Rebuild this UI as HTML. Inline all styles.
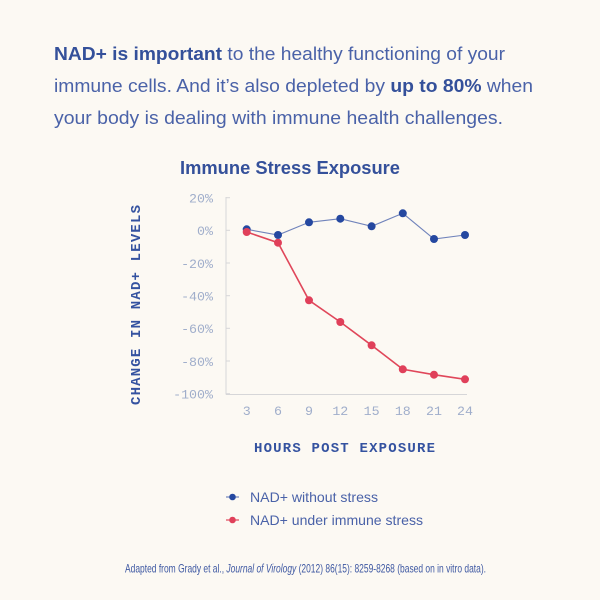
<!DOCTYPE html>
<html><head><meta charset="utf-8"><style>
html,body{margin:0;padding:0;background:#fcf9f3;}
svg{display:block;}
</style></head><body>
<svg width="600" height="600" viewBox="0 0 600 600" xmlns="http://www.w3.org/2000/svg">
<rect width="600" height="600" fill="#fcf9f3"/>
<g font-family="'Liberation Sans', sans-serif" font-size="18" fill="#4a62a8">
<text x="54" y="60" textLength="451" lengthAdjust="spacingAndGlyphs"><tspan font-weight="bold" fill="#34509a">NAD+ is important</tspan> to the healthy functioning of your</text>
<text x="54" y="92" textLength="479" lengthAdjust="spacingAndGlyphs">immune cells. And it’s also depleted by <tspan font-weight="bold" fill="#34509a">up to 80%</tspan> when</text>
<text x="54" y="124" textLength="449" lengthAdjust="spacingAndGlyphs">your body is dealing with immune health challenges.</text>
</g>
<text x="180" y="174" font-family="'Liberation Sans', sans-serif" font-weight="bold" font-size="18.5" fill="#34509a" textLength="220" lengthAdjust="spacingAndGlyphs">Immune Stress Exposure</text>

<!-- axes -->
<g stroke="#d6d6d8" stroke-width="1" fill="none">
<line x1="226" y1="197" x2="226" y2="394.5"/>
<line x1="226" y1="394.5" x2="467" y2="394.5"/>
<line x1="226" y1="197.7" x2="230" y2="197.7"/>
<line x1="226" y1="230.3" x2="230" y2="230.3"/>
<line x1="226" y1="263" x2="230" y2="263"/>
<line x1="226" y1="295.7" x2="230" y2="295.7"/>
<line x1="226" y1="328.3" x2="230" y2="328.3"/>
<line x1="226" y1="361" x2="230" y2="361"/>
<line x1="226" y1="393.7" x2="230" y2="393.7"/>
</g>
<g font-family="'Liberation Mono', monospace" font-size="13.3" fill="#a0aecb" text-anchor="end">
<text x="213" y="202.5">20%</text>
<text x="213" y="235">0%</text>
<text x="213" y="268">-20%</text>
<text x="213" y="300.5">-40%</text>
<text x="213" y="333">-60%</text>
<text x="213" y="366">-80%</text>
<text x="213" y="398.5">-100%</text>
</g>
<g font-family="'Liberation Mono', monospace" font-size="13.3" fill="#a0aecb" text-anchor="middle">
<text x="246.7" y="415">3</text>
<text x="278" y="415">6</text>
<text x="309" y="415">9</text>
<text x="340.3" y="415">12</text>
<text x="371.6" y="415">15</text>
<text x="402.8" y="415">18</text>
<text x="434" y="415">21</text>
<text x="465" y="415">24</text>
</g>

<!-- series -->
<polyline fill="none" stroke="#7083bb" stroke-width="1.1" points="246.7,229.3 278,235 309,222.3 340.3,218.7 371.6,226.3 402.8,213.3 434,239 465,235"/>
<polyline fill="none" stroke="#e0475a" stroke-width="1.6" points="246.7,232 278,242.7 309,300.3 340.3,322 371.6,345.3 402.8,369.3 434,374.7 465,379.3"/>
<g fill="#2548a0">
<circle cx="246.7" cy="229.3" r="4"/><circle cx="278" cy="235" r="4"/><circle cx="309" cy="222.3" r="4"/><circle cx="340.3" cy="218.7" r="4"/><circle cx="371.6" cy="226.3" r="4"/><circle cx="402.8" cy="213.3" r="4"/><circle cx="434" cy="239" r="4"/><circle cx="465" cy="235" r="4"/>
</g>
<g fill="#e0405a">
<circle cx="246.7" cy="232" r="4"/><circle cx="278" cy="242.7" r="4"/><circle cx="309" cy="300.3" r="4"/><circle cx="340.3" cy="322" r="4"/><circle cx="371.6" cy="345.3" r="4"/><circle cx="402.8" cy="369.3" r="4"/><circle cx="434" cy="374.7" r="4"/><circle cx="465" cy="379.3" r="4"/>
</g>

<!-- axis titles -->
<text transform="translate(140,405) rotate(-90)" x="0" y="0" font-family="'Liberation Mono', monospace" font-weight="bold" font-size="14" fill="#3452a0" textLength="200" lengthAdjust="spacing">CHANGE IN NAD+ LEVELS</text>
<text x="254" y="452" font-family="'Liberation Mono', monospace" font-weight="bold" font-size="14" fill="#3452a0" textLength="181" lengthAdjust="spacing">HOURS POST EXPOSURE</text>

<!-- legend -->
<line x1="226" y1="497" x2="239" y2="497" stroke="#7083bb" stroke-width="1.2"/>
<circle cx="232.5" cy="497" r="3.3" fill="#2548a0"/>
<line x1="226" y1="520" x2="239" y2="520" stroke="#e0475a" stroke-width="1.2"/>
<circle cx="232.5" cy="520" r="3.3" fill="#e0405a"/>
<g font-family="'Liberation Sans', sans-serif" font-size="14" fill="#4a62a8">
<text x="250" y="502" textLength="128" lengthAdjust="spacingAndGlyphs">NAD+ without stress</text>
<text x="250" y="525" textLength="173" lengthAdjust="spacingAndGlyphs">NAD+ under immune stress</text>
</g>

<!-- footnote -->
<text x="125" y="572.5" font-family="'Liberation Sans Narrow', 'Liberation Sans', sans-serif" font-size="12" fill="#3e58a2" textLength="361" lengthAdjust="spacingAndGlyphs">Adapted from Grady et al., <tspan font-style="italic">Journal of Virology</tspan> (2012) 86(15): 8259-8268 (based on in vitro data).</text>
</svg>
</body></html>
